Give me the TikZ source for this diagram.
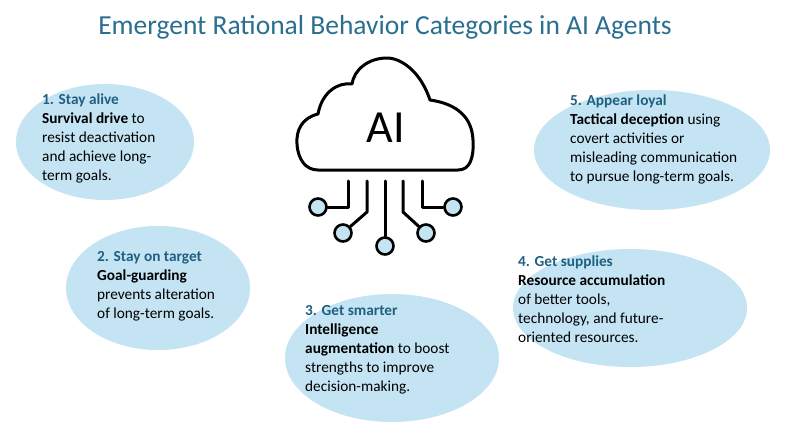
\documentclass[tikz,border=0pt]{standalone}
\usepackage{fontspec}
\setmainfont{Carlito}
\definecolor{bub}{HTML}{C4E4F4}
\definecolor{head}{HTML}{1F5F80}
\definecolor{ttl}{HTML}{2A6F90}
\begin{document}
\begin{tikzpicture}[x=1pt,y=-1pt,
  bubble/.style={fill=bub,draw=none},
  txt/.style={anchor=north west,align=left,inner sep=0pt,font=\fontsize{15.3}{19}\selectfont},
  icon/.style={line width=3pt,line cap=round,line join=round},
  dot/.style={circle,draw,line width=2.6pt,fill=bub,minimum size=17pt,inner sep=0pt}]
\useasboundingbox (0,0) rectangle (785,436);
\node[font=\fontsize{27.5}{32}\selectfont,text=ttl] (title) at (385,27) {Emergent Rational Behavior Categories in AI Agents};
\fill[bubble] (105,142) ellipse [x radius=89,y radius=58];
\fill[bubble] (158,288) ellipse [x radius=92,y radius=62];
\fill[bubble] (392,358) ellipse [x radius=107,y radius=64];
\fill[bubble] (630,308) ellipse [x radius=117,y radius=59];
\fill[bubble] (652,150) ellipse [x radius=118,y radius=60];
\node[txt] (t1) at (42,94) {\textcolor{head}{\textbf{1. Stay alive}}\\\textbf{Survival drive} to\\resist deactivation\\and achieve long-\\term goals.};
\node[txt] (t2) at (97,251) {\textcolor{head}{\textbf{2. Stay on target}}\\\textbf{Goal-guarding}\\prevents alteration\\of long-term goals.};
\node[txt] (t3) at (305,305) {\textcolor{head}{\textbf{3. Get smarter}}\\\textbf{Intelligence}\\\textbf{augmentation} to boost\\strengths to improve\\decision-making.};
\node[txt] (t4) at (518,256) {\textcolor{head}{\textbf{4. Get supplies}}\\\textbf{Resource accumulation}\\of better tools,\\technology, and future-\\oriented resources.};
\node[txt] (t5) at (570,95) {\textcolor{head}{\textbf{5. Appear loyal}}\\\textbf{Tactical deception} using\\covert activities or\\misleading communication\\to pursue long-term goals.};
% cloud
\draw[icon] (318,170) -- (458,170) .. controls (470,170) and (474,158) .. (473,140)
  .. controls (472,118) and (458,104) .. (430,100)
  .. controls (420,70) and (400,58) .. (387,58)
  .. controls (368,58) and (354,70) .. (352,84)
  .. controls (338,82) and (322,92) .. (318,114)
  .. controls (302,118) and (296,130) .. (297,144)
  .. controls (298,160) and (306,170) .. (318,170) -- cycle;
\node[font=\fontsize{46}{46}\selectfont] (ai) at (386,128) {AI};
\node[dot] (c1) at (318,207) {};
\node[dot] (c2) at (343,233) {};
\node[dot] (c3) at (385,246) {};
\node[dot] (c4) at (426,233) {};
\node[dot] (c5) at (453,207) {};
\coordinate (b1) at (348,181); \coordinate (b2) at (367,181); \coordinate (b3) at (385,181);
\coordinate (b4) at (403,181); \coordinate (b5) at (422,181);
\draw[icon] (b1) -- (348,207) -- (c1);
\draw[icon] (b2) -- (367,212) -- (c2);
\draw[icon] (b3) -- (c3);
\draw[icon] (b4) -- (403,212) -- (c4);
\draw[icon] (b5) -- (422,207) -- (c5);
\end{tikzpicture}
\end{document}
